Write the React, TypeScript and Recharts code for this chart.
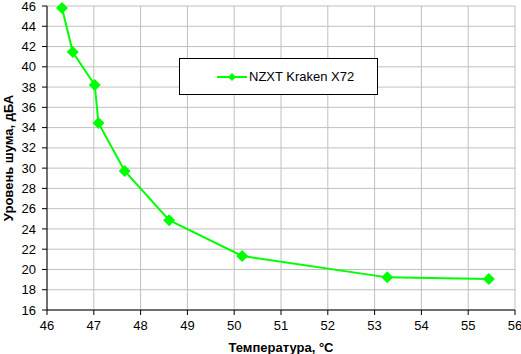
import { ComposedChart, Line, XAxis, YAxis, CartesianGrid, Legend } from 'recharts';

const seriesName = 'NZXT Kraken X72';
const temperature = [46.32, 46.55, 47.02, 47.1, 47.66, 48.61, 50.17, 53.27, 55.44];
const noise = [45.8, 41.45, 38.2, 34.45, 29.72, 24.86, 21.33, 19.22, 19.06];
const xTicks = [46, 47, 48, 49, 50, 51, 52, 53, 54, 55, 56];
const yTicks = [16, 18, 20, 22, 24, 26, 28, 30, 32, 34, 36, 38, 40, 42, 44, 46];

const data = temperature.map((t, i) => ({ t, noise: noise[i] }));

const GREEN = '#00ff00';
const FONT = '"Liberation Sans", Arial, sans-serif';

const Diamond = (props: any) => {
  const { cx, cy } = props;
  const r = 6;
  if (cx == null || cy == null) return null;
  return (
    <polygon
      points={`${cx},${cy - r} ${cx + r},${cy} ${cx},${cy + r} ${cx - r},${cy}`}
      fill={GREEN}
      stroke="none"
    />
  );
};

const LegendBox = () => (
  <div
    style={{
      boxSizing: 'border-box',
      width: '100%',
      height: '100%',
      border: '1px solid #000',
      background: '#fff',
      display: 'flex',
      alignItems: 'center',
      fontFamily: FONT,
      fontSize: 13,
      color: '#000',
    }}
  >
    <svg width={30} height={10} style={{ marginLeft: 37, marginRight: 2 }}>
      <line x1={0} y1={5} x2={30} y2={5} stroke={GREEN} strokeWidth={2} />
      <polygon points="15,1 19,5 15,9 11,5" fill={GREEN} />
    </svg>
    <span>{seriesName}</span>
  </div>
);

const YTitle = ({ viewBox }: any) => (
  <text
    x={8}
    y={viewBox.y + viewBox.height / 2}
    transform={`rotate(-90 8 ${viewBox.y + viewBox.height / 2})`}
    textAnchor="middle"
    dominantBaseline="central"
    fontFamily={FONT}
    fontSize={13}
    fontWeight="bold"
    fill="#000"
  >
    Уровень шума, дБА
  </text>
);

export default function App() {
  const tick = { fill: '#000', fontSize: 13, fontFamily: FONT };
  return (
    <div style={{ position: 'absolute', left: 0, top: 0, background: '#fff' }}>
      <ComposedChart
        width={521}
        height={354}
        data={data}
        margin={{ top: 6, right: 6, bottom: 0, left: 0 }}
      >
        <CartesianGrid stroke="#c0c0c0" strokeWidth={1} />
        <XAxis
          dataKey="t"
          type="number"
          domain={[46, 56]}
          ticks={xTicks}
          interval={0}
          height={44}
          tick={tick}
          tickSize={5}
          tickMargin={6}
          stroke="#000"
          tickLine={{ stroke: '#000' }}
          label={{
            value: 'Температура, °С',
            position: 'insideBottom',
            offset: 2,
            fill: '#000',
            fontSize: 13,
            fontWeight: 'bold',
            fontFamily: FONT,
          }}
        />
        <YAxis
          type="number"
          domain={[16, 46]}
          ticks={yTicks}
          interval={0}
          width={47}
          tick={tick}
          tickSize={5}
          tickMargin={6}
          stroke="#000"
          tickLine={{ stroke: '#000' }}
          label={<YTitle />}
        />
        <Legend
          layout="horizontal"
          verticalAlign="middle"
          align="center"
          content={<LegendBox />}
          wrapperStyle={{ left: 179, top: 58, width: 199, height: 37 }}
        />
        <Line
          dataKey="noise"
          name={seriesName}
          type="linear"
          stroke={GREEN}
          strokeWidth={2}
          dot={<Diamond />}
          activeDot={false}
          isAnimationActive={false}
        />
      </ComposedChart>
    </div>
  );
}
